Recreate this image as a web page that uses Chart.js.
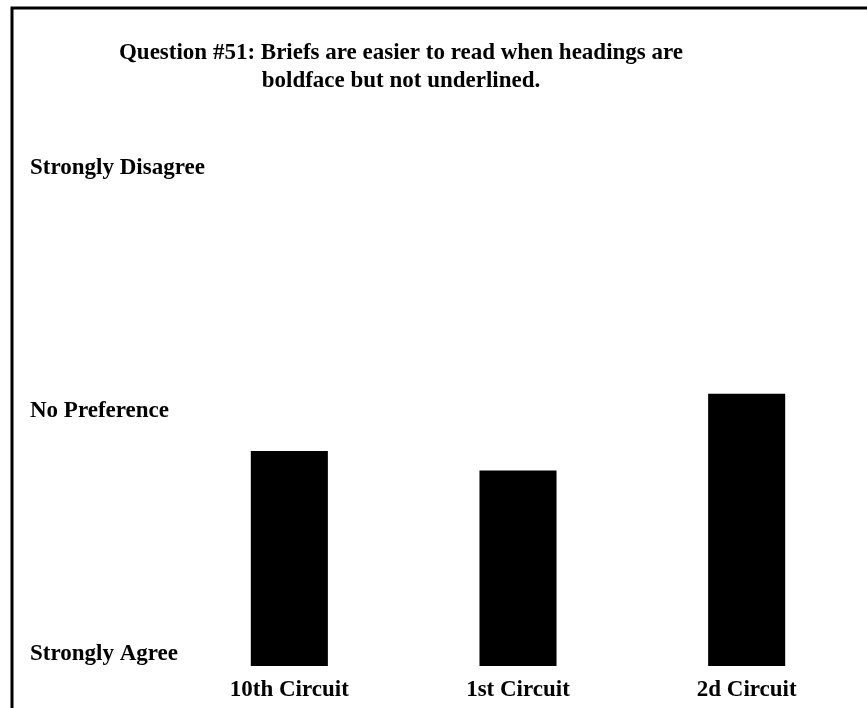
<!DOCTYPE html>
<html>
<head>
<meta charset="utf-8">
<script src="https://cdn.jsdelivr.net/npm/chart.js@4.4.0/dist/chart.umd.min.js"></script>
<style>
  html, body { margin: 0; padding: 0; background: #fff; }
  #wrap { width: 867px; height: 708px; position: relative; }
</style>
</head>
<body>
<div id="wrap"><canvas id="q51"></canvas></div>
<script>
// survey categories and mean answer (1 = Strongly Agree, 5 = Strongly Disagree)
var circuits = ['10th Circuit', '1st Circuit', '2d Circuit'];
var meanScore = [2.77, 2.61, 3.24];
var scaleLabels = {1: 'Strongly Agree', 3: 'No Preference', 5: 'Strongly Disagree'};
var titleLines = ['Question #51: Briefs are easier to read when headings are', 'boldface but not underlined.'];

var serif = "'Liberation Serif', 'Times New Roman', serif";

// frame on top/left and the two-line title
var frameAndTitle = {
    id: 'frameAndTitle',
    beforeDraw: function (chart) {
        var c = chart.ctx;
        c.save();
        c.fillStyle = '#fff';
        c.fillRect(0, 0, chart.width, chart.height);
        c.strokeStyle = '#000';
        c.lineWidth = 3;
        c.beginPath();
        c.moveTo(12, chart.height);
        c.lineTo(12, 8);
        c.lineTo(chart.width, 8);
        c.stroke();
        c.restore();
    },
    afterDraw: function (chart) {
        var c = chart.ctx;
        c.save();
        c.fillStyle = '#000';
        c.font = 'bold 23px ' + serif;
        c.textAlign = 'center';
        c.textBaseline = 'middle';
        titleLines.forEach(function (line, i) {
            c.fillText(line, 401, 53 + i * 28);
        });
        c.restore();
    }
};

new Chart(document.getElementById('q51'), {
    type: 'bar',
    data: {
        labels: circuits,
        datasets: [{
            data: meanScore,
            base: 1,
            backgroundColor: '#000',
            borderWidth: 0,
            categoryPercentage: 1,
            barPercentage: 0.337
        }]
    },
    options: {
        responsive: true,
        maintainAspectRatio: false,
        animation: false,
        events: [],
        layout: { padding: { left: 30, right: 6, top: 180, bottom: 6 } },
        plugins: {
            legend: { display: false },
            tooltip: { enabled: false }
        },
        scales: {
            x: {
                grid: { display: false },
                border: { display: false },
                afterFit: function (scale) { scale.height = 36; },
                ticks: {
                    color: '#000',
                    padding: 2,
                    font: { family: serif, size: 23, weight: 'bold' }
                }
            },
            y: {
                min: 1,
                max: 5,
                grid: { display: false, drawTicks: false },
                border: { display: false },
                afterFit: function (scale) { scale.width = 145; },
                ticks: {
                    stepSize: 2,
                    color: '#000',
                    mirror: true,
                    crossAlign: 'near',
                    padding: -145,
                    labelOffset: -12,
                    font: { family: serif, size: 23, weight: 'bold' },
                    callback: function (v) { return scaleLabels[v] || ''; }
                }
            }
        }
    },
    plugins: [frameAndTitle]
});
</script>
</body>
</html>
